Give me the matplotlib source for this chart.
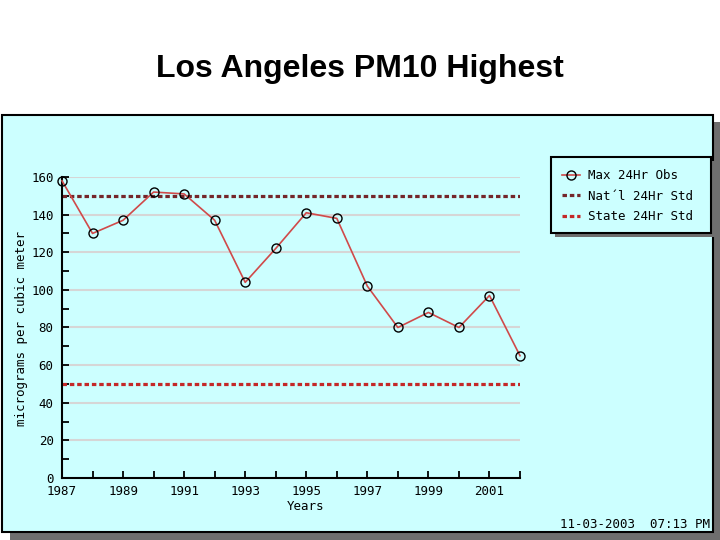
import matplotlib
matplotlib.use('Agg')
import matplotlib.pyplot as plt
from matplotlib.patches import Rectangle
from matplotlib.lines import Line2D
from matplotlib.ticker import MultipleLocator, FixedLocator

years = [1987, 1988, 1989, 1990, 1991, 1992, 1993, 1994,
         1995, 1996, 1997, 1998, 1999, 2000, 2001, 2002]
max_obs = [158, 130, 137, 152, 151, 137, 104, 122,
           141, 138, 102, 80, 88, 80, 97, 65]
natl_std = 150
state_std = 50
year_labels = [1987, 1989, 1991, 1993, 1995, 1997, 1999, 2001]
legend_labels = ['Max 24Hr Obs', "Nat\u00b4l 24Hr Std", 'State 24Hr Std']

panel = '#ccffff'
mono = 'DejaVu Sans Mono'
fs = 9

fig = plt.figure(figsize=(7.2, 5.4), dpi=100)

# panel with shadow
fig.patches.append(Rectangle((10 / 720, 0), 710 / 720, 418 / 540, transform=fig.transFigure,
                             facecolor='#6e6e6e', edgecolor='none', zorder=0))
fig.patches.append(Rectangle((2 / 720, 8 / 540), 711 / 720, 417 / 540, transform=fig.transFigure,
                             facecolor=panel, edgecolor='black', linewidth=1.5, zorder=1))

fig.text(0.5, 1 - 69 / 540, 'Los Angeles PM10 Highest', ha='center', va='center',
         fontsize=23, fontweight='bold', family='Liberation Sans')

ax = fig.add_axes([62 / 720, 1 - 478 / 540, 458 / 720, 301 / 540])
ax.set_facecolor('none')
ax.set_zorder(2)

for v in range(20, 161, 20):
    ax.axhline(v, color='#d6d6d6', linewidth=1.5, zorder=1)

ax.axhline(natl_std, color='#74262a', linewidth=2.3, linestyle=(0, (1.4, 0.9)), zorder=2)
ax.axhline(state_std, color='#c42828', linewidth=2.3, linestyle=(0, (1.4, 0.9)), zorder=2)
ax.plot(years, max_obs, color='#d04a4a', linewidth=1.2, marker='o', markersize=6.5,
        markerfacecolor='none', markeredgecolor='black', markeredgewidth=1.0,
        zorder=3, clip_on=False)

ax.set_xlim(1987, 2002)
ax.set_ylim(0, 160)
ax.xaxis.set_major_locator(FixedLocator(year_labels))
ax.xaxis.set_minor_locator(MultipleLocator(1))
ax.yaxis.set_major_locator(MultipleLocator(20))
ax.yaxis.set_minor_locator(MultipleLocator(10))
ax.tick_params(which='both', direction='in', length=5, width=1.3, color='black',
               labelsize=fs)
ax.tick_params(axis='y', pad=6)
ax.tick_params(axis='x', pad=5)
for lab in ax.get_xticklabels() + ax.get_yticklabels():
    lab.set_family(mono)
# lift the "0" a bit so it clears the first year label
ax.get_yticklabels()[0].set_verticalalignment('bottom')
ax.spines['top'].set_visible(False)
ax.spines['right'].set_visible(False)
ax.spines['left'].set_linewidth(1.5)
ax.spines['bottom'].set_linewidth(1.5)

fig.text(22 / 720, 1 - 329 / 540, 'micrograms per cubic meter', rotation=90,
         ha='center', va='center', fontsize=fs, family=mono)
fig.text(306 / 720, 1 - 507 / 540, 'Years', ha='center', va='center',
         fontsize=fs, family=mono)
fig.text(710 / 720, 1 - 524 / 540, '11-03-2003  07:13 PM', ha='right', va='center',
         fontsize=fs, family=mono)

# legend box
fig.patches.append(Rectangle((555 / 720, 1 - 237 / 540), 160 / 720, 76 / 540,
                             transform=fig.transFigure, facecolor='#6e6e6e',
                             edgecolor='none', zorder=3))
fig.patches.append(Rectangle((551 / 720, 1 - 233 / 540), 160 / 720, 76 / 540,
                             transform=fig.transFigure, facecolor=panel,
                             edgecolor='black', linewidth=1.5, zorder=4))
handles = [
    Line2D([], [], color='#d04a4a', linewidth=1.2, marker='o', markersize=6.5,
           markerfacecolor='none', markeredgecolor='black'),
    Line2D([], [], color='#74262a', linewidth=2.3, linestyle=(0, (1.4, 0.9))),
    Line2D([], [], color='#c42828', linewidth=2.3, linestyle=(0, (1.4, 0.9))),
]
leg = fig.legend(handles, legend_labels, loc='upper left',
                 bbox_to_anchor=(551 / 720, 1 - 158 / 540), frameon=False,
                 prop={'family': mono, 'size': fs}, handlelength=1.4,
                 handletextpad=0.7, labelspacing=0.6)
leg.set_zorder(5)

plt.savefig('out.png')
plt.close()
